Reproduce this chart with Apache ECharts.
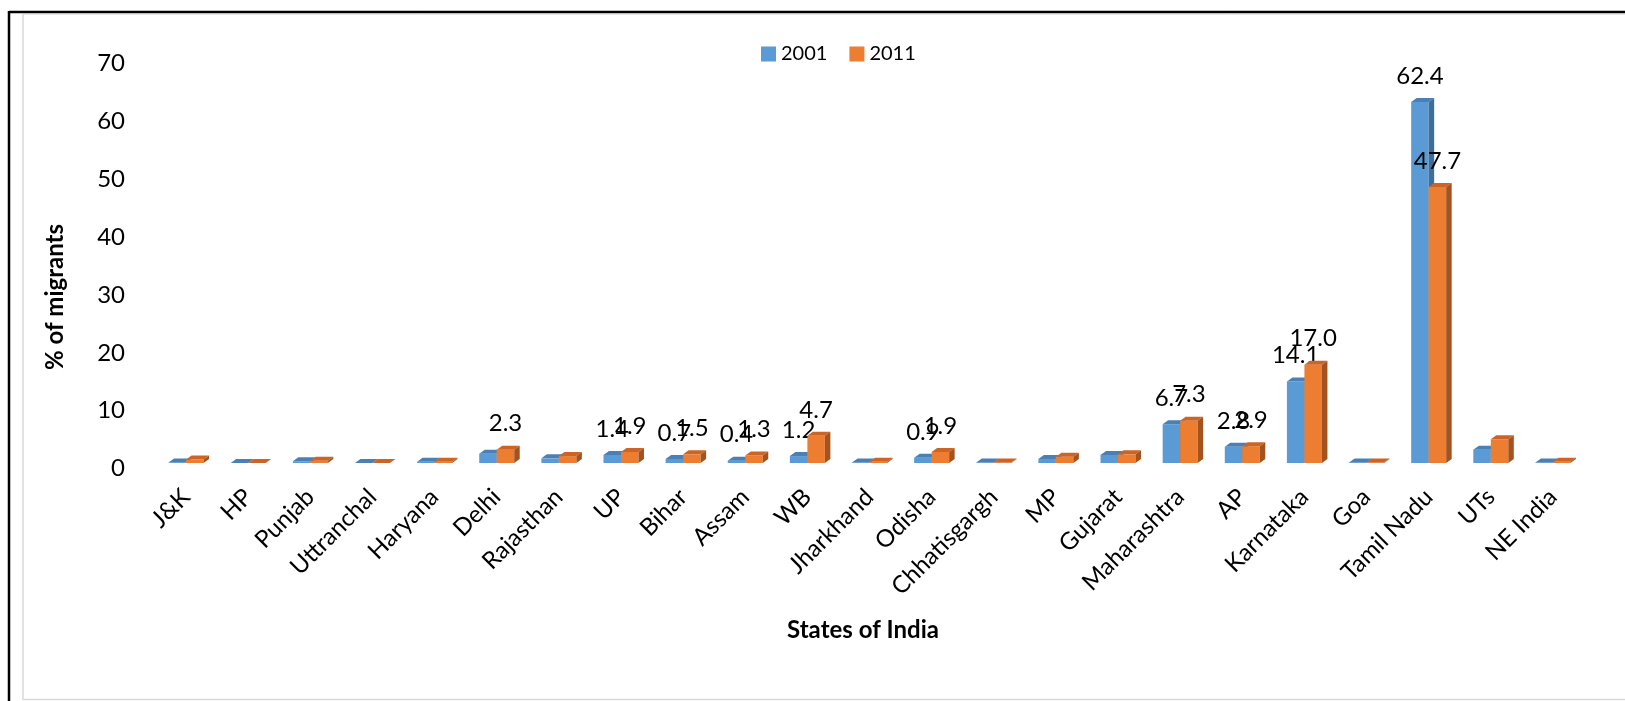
<!DOCTYPE html>
<html>
<head>
<meta charset="utf-8">
<title>% of migrants by state, 2001 and 2011</title>
<script src="https://cdn.jsdelivr.net/npm/echarts@6/dist/echarts.min.js"></script>
<style>
  html, body { margin: 0; padding: 0; background: #fff; }
  #chart { width: 1625px; height: 701px; }
</style>
</head>
<body>
<div id="chart"></div>
<script>
// States along the horizontal axis
const states = ['J&K', 'HP', 'Punjab', 'Uttranchal', 'Haryana', 'Delhi', 'Rajasthan', 'UP',
  'Bihar', 'Assam', 'WB', 'Jharkhand', 'Odisha', 'Chhatisgargh', 'MP', 'Gujarat',
  'Maharashtra', 'AP', 'Karnataka', 'Goa', 'Tamil Nadu', 'UTs', 'NE India'];

// Share of migrants (%) per state
const pct2001 = [0.1, 0.0, 0.3, 0.0, 0.2, 1.6, 0.8, 1.4, 0.7, 0.4, 1.2, 0.1,
  0.9, 0.1, 0.7, 1.4, 6.7, 2.8, 14.1, 0.1, 62.4, 2.3, 0.1];
const pct2011 = [0.6, 0.0, 0.4, 0.0, 0.2, 2.3, 1.2, 1.9, 1.5, 1.3, 4.7, 0.2,
  1.9, 0.1, 1.1, 1.5, 7.3, 2.9, 17.0, 0.1, 47.7, 4.1, 0.2];

// States whose bars carry a value label
const labelled2001 = ['UP', 'Bihar', 'Assam', 'WB', 'Odisha', 'Maharashtra', 'AP', 'Karnataka', 'Tamil Nadu'];
const labelled2011 = ['Delhi', 'UP', 'Bihar', 'Assam', 'WB', 'Odisha', 'Maharashtra', 'AP', 'Karnataka', 'Tamil Nadu'];

// Value axis ticks
const yMin = 0, yMax = 70, yStep = 10;

const FONT = 'Lato, "Open Sans", sans-serif';
const BAR_W = 17.5;   // front face width
const DEPTH_X = 5.5;  // oblique depth of the box
const DEPTH_Y = 4;

const palette = {
  '2001': { front: '#5B9BD5', top: '#4A80B4', side: '#3F6E9B' },
  '2011': { front: '#ED7D31', top: '#CC6426', side: '#A4531F' }
};

// Pseudo-3D column: front face, top face and right side face
function makeRenderer(seriesKey, labelled, leftOfCenter) {
  const col = palette[seriesKey];
  return function (params, api) {
    const idx = api.value(0);
    const val = api.value(1);
    const topPt = api.coord([idx, val]);
    const basePt = api.coord([idx, 0]);
    const x0 = leftOfCenter ? topPt[0] - BAR_W : topPt[0];
    const ty = topPt[1];
    const by = basePt[1];
    const children = [
      {
        type: 'rect',
        shape: { x: x0, y: ty, width: BAR_W, height: by - ty },
        style: { fill: col.front }
      },
      {
        type: 'polygon',
        shape: { points: [[x0, ty], [x0 + BAR_W, ty], [x0 + BAR_W + DEPTH_X, ty - DEPTH_Y], [x0 + DEPTH_X, ty - DEPTH_Y]] },
        style: { fill: col.top }
      },
      {
        type: 'polygon',
        shape: { points: [[x0 + BAR_W, ty], [x0 + BAR_W + DEPTH_X, ty - DEPTH_Y], [x0 + BAR_W + DEPTH_X, by - DEPTH_Y], [x0 + BAR_W, by]] },
        style: { fill: col.side }
      }
    ];
    if (labelled.indexOf(states[idx]) >= 0) {
      children.push({
        type: 'text',
        x: x0 + BAR_W / 2,
        y: ty - 26,
        z2: 10,
        style: {
          text: val.toFixed(1),
          fill: '#000',
          font: '24px ' + FONT,
          align: 'center',
          verticalAlign: 'middle'
        }
      });
    }
    return { type: 'group', children: children };
  };
}

const chart = echarts.init(document.getElementById('chart'), null, { renderer: 'canvas' });

chart.setOption({
  backgroundColor: '#fff',
  animation: false,
  textStyle: { fontFamily: FONT },
  legend: {
    data: [
      { name: '2001', icon: 'rect' },
      { name: '2011', icon: 'rect' }
    ],
    left: 756,
    top: 39,
    itemWidth: 15,
    itemHeight: 15,
    itemGap: 22,
    textStyle: { fontSize: 20, color: '#000', fontFamily: FONT }
  },
  grid: { left: 155, right: 41, top: 58, bottom: 238, containLabel: false },
  xAxis: {
    type: 'category',
    data: states,
    axisLine: { show: false },
    axisTick: { show: false },
    axisLabel: {
      rotate: 45,
      interval: 0,
      margin: 30,
      fontSize: 24,
      color: '#000',
      fontFamily: FONT
    }
  },
  yAxis: {
    type: 'value',
    min: yMin,
    max: yMax,
    interval: yStep,
    axisLine: { show: false },
    axisTick: { show: false },
    splitLine: { show: false },
    axisLabel: {
      margin: 30,
      formatter: '{t|{value}}',
      rich: {
        t: { fontSize: 24, color: '#000', fontFamily: FONT, padding: [11, 0, 0, 0] }
      }
    }
  },
  series: [
    {
      name: '2001',
      type: 'custom',
      itemStyle: { color: palette['2001'].front },
      renderItem: makeRenderer('2001', labelled2001, true),
      encode: { x: 0, y: 1 },
      data: pct2001.map((v, i) => [i, v]),
      z: 2
    },
    {
      name: '2011',
      type: 'custom',
      itemStyle: { color: palette['2011'].front },
      renderItem: makeRenderer('2011', labelled2011, false),
      encode: { x: 0, y: 1 },
      data: pct2011.map((v, i) => [i, v]),
      z: 3
    }
  ],
  graphic: [
    // chart frame
    { type: 'line', shape: { x1: 9, y1: 12, x2: 1625, y2: 12 }, style: { stroke: '#000', lineWidth: 2.5 } },
    { type: 'line', shape: { x1: 9, y1: 11, x2: 9, y2: 701 }, style: { stroke: '#000', lineWidth: 2.5 } },
    { type: 'line', shape: { x1: 23, y1: 14.5, x2: 1625, y2: 14.5 }, style: { stroke: '#E6E6E6', lineWidth: 1 } },
    { type: 'line', shape: { x1: 23, y1: 14, x2: 23, y2: 700 }, style: { stroke: '#D9D9D9', lineWidth: 1.5 } },
    { type: 'line', shape: { x1: 23, y1: 699.5, x2: 1625, y2: 699.5 }, style: { stroke: '#D9D9D9', lineWidth: 1.5 } },
    // axis titles
    {
      type: 'text',
      x: 55,
      y: 297,
      rotation: Math.PI / 2,
      style: {
        text: '% of migrants',
        font: 'bold 24px ' + FONT,
        fill: '#000',
        align: 'center',
        verticalAlign: 'middle'
      }
    },
    {
      type: 'text',
      x: 863,
      y: 630,
      style: {
        text: 'States of India',
        font: 'bold 24px ' + FONT,
        fill: '#000',
        align: 'center',
        verticalAlign: 'middle'
      }
    }
  ]
});
</script>
</body>
</html>
